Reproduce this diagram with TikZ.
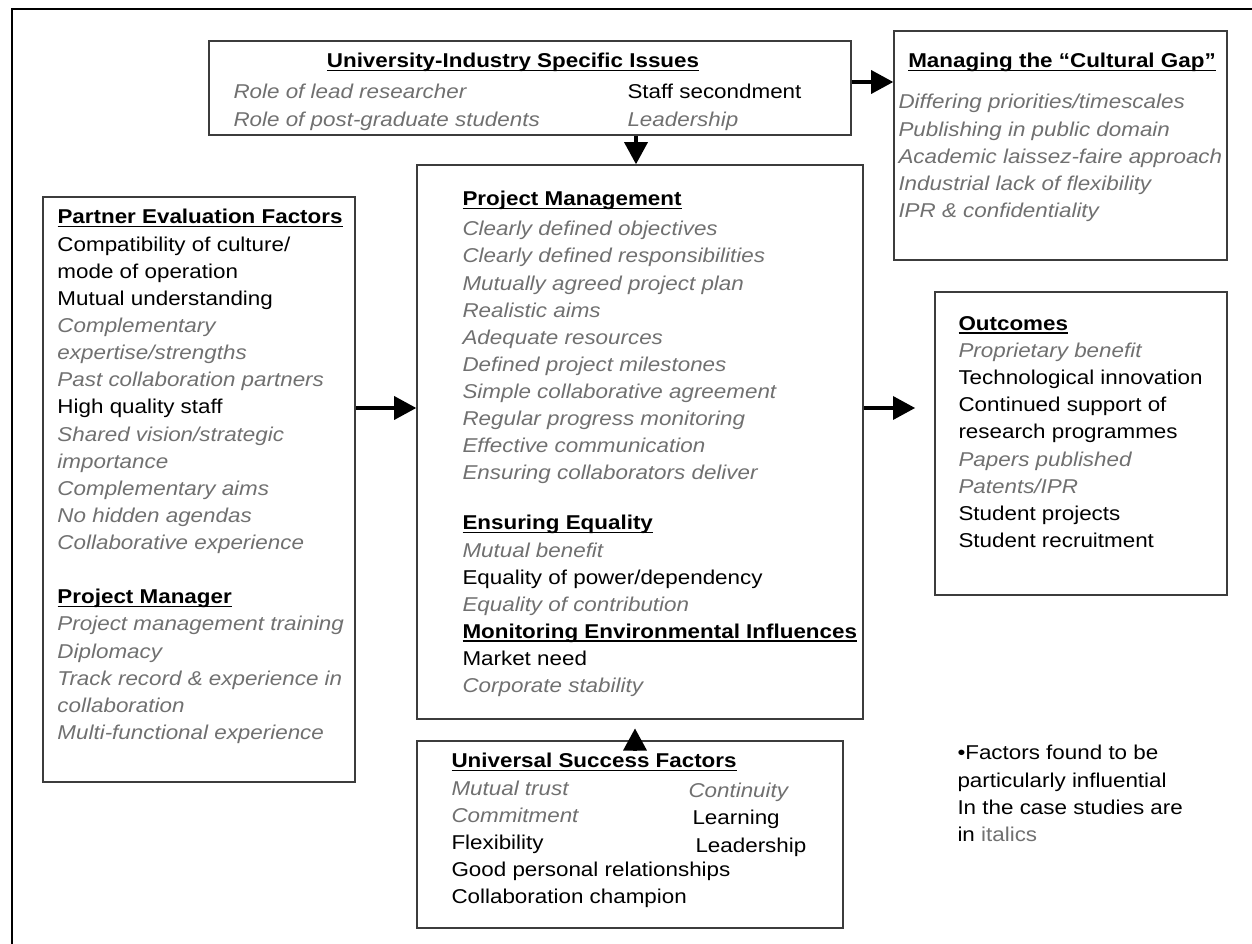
\documentclass[tikz,border=0pt]{standalone}
\usepackage{fontspec}
\setmainfont{Liberation Sans}[FakeStretch=1.12]
\usetikzlibrary{arrows.meta,fit}

\definecolor{itgray}{RGB}{112,112,112}
\definecolor{boxline}{RGB}{60,60,60}
\newsavebox{\hdbox}
\newcommand{\hd}[1]{{\bfseries\sbox{\hdbox}{#1}\rlap{\rule[-2.6pt]{\wd\hdbox}{1.3pt}}\usebox{\hdbox}}}
\newcommand{\gi}[1]{{\color{itgray}\itshape #1}}

\tikzset{every picture/.style={line width=0.75pt}}
\tikzset{
  box/.style={draw=boxline, line width=1.3pt, inner sep=0pt},
  txt/.style={anchor=north west, inner sep=0pt, align=left, font=\fontsize{15}{20.35}\selectfont,
    execute at begin node=\rule{0pt}{12pt}},
  title/.style={anchor=base, inner sep=0pt, font=\fontsize{15}{20.35}\selectfont},
  arr/.style={line width=3pt, -{Triangle[length=16.5pt,width=18pt,line width=0pt]}},
}

\begin{document}
\begin{tikzpicture}[x=0.75pt,y=0.75pt,yscale=-1,xscale=1]
\useasboundingbox (0,0) rectangle (1252,944);

%Frame
\draw [line width=1.5pt] (12,944) -- (12,9) -- (1252,9);

%Shape: Rectangle [University-Industry]
\node [box, fit={(209,41) (851,135)}] (ui) {};
%Shape: Rectangle [Cultural Gap]
\node [box, fit={(894,31) (1227,260)}] (cg) {};
%Shape: Rectangle [Partner Evaluation]
\node [box, fit={(43,197) (355,782)}] (pe) {};
%Shape: Rectangle [Project Management]
\node [box, fit={(417,165) (863,719)}] (pm) {};
%Shape: Rectangle [Outcomes]
\node [box, fit={(935,292) (1227,595)}] (out) {};
%Shape: Rectangle [Universal Success]
\node [box, fit={(417,741) (843,928)}] (usf) {};

%Arrows
\coordinate (outin) at (915,408);
\draw [arr] ([xshift=-3pt]pm.north |- ui.south) -- ([xshift=-3pt]pm.north);
\draw [arr] (ui.east |- 0,82) -- (cg.west |- 0,82);
\draw [arr] (pe.east |- 0,408) -- (pm.west |- 0,408);
\draw [arr] (pm.east |- outin) -- (outin);
\draw [arr] ([xshift=-3.75pt]pm.south |- usf.north) -- ([xshift=-3.75pt,yshift=6.5pt]pm.south);

% Text Node
\node [title] (ui-hd) at (513,68) {\hd{University-Industry Specific Issues}};
% Text Node
\node [txt] (ui-l) at (233,84) {\gi{Role of lead researcher}\\ \gi{Role of post-graduate students}};
% Text Node
\node [txt] (ui-r) at (627,84) {Staff secondment\\ \gi{Leadership}};

% Text Node
\node [title] (cg-hd) at (1062,68) {\hd{Managing the ``Cultural Gap''}};
% Text Node
\node [txt] (cg-l) at (898,94) {\gi{Differing priorities/timescales}\\ \gi{Publishing in public domain}\\ \gi{Academic laissez-faire approach}\\ \gi{Industrial lack of flexibility}\\ \gi{IPR \& confidentiality}};

% Text Node
\node [txt] (pe-l) at (57,209) {\hd{Partner Evaluation Factors}\\ Compatibility of culture/\\ mode of operation\\ Mutual understanding\\ \gi{Complementary}\\ \gi{expertise/strengths}\\ \gi{Past collaboration partners}\\ High quality staff\\ \gi{Shared vision/strategic}\\ \gi{importance}\\ \gi{Complementary aims}\\ \gi{No hidden agendas}\\ \gi{Collaborative experience}\\ \mbox{}\\ \hd{Project Manager}\\ \gi{Project management training}\\ \gi{Diplomacy}\\ \gi{Track record \& experience in}\\ \gi{collaboration}\\ \gi{Multi-functional experience}};

% Text Node
\node [txt] (pm-a) at (462,191) {\hd{Project Management}\\[2pt] \gi{Clearly defined objectives}\\ \gi{Clearly defined responsibilities}\\ \gi{Mutually agreed project plan}\\ \gi{Realistic aims}\\ \gi{Adequate resources}\\ \gi{Defined project milestones}\\ \gi{Simple collaborative agreement}\\ \gi{Regular progress monitoring}\\ \gi{Effective communication}\\ \gi{Ensuring collaborators deliver}};
% Text Node
\node [txt] (pm-b) at (462,515) {\hd{Ensuring Equality}\\ \gi{Mutual benefit}\\ Equality of power/dependency\\ \gi{Equality of contribution}\\ \hd{Monitoring Environmental Influences}\\ Market need\\ \gi{Corporate stability}};

% Text Node
\node [txt] (out-l) at (958,316) {\hd{Outcomes}\\ \gi{Proprietary benefit}\\ Technological innovation\\ Continued support of\\ research programmes\\ \gi{Papers published}\\ \gi{Patents/IPR}\\ Student projects\\ Student recruitment};

% Text Node
\node [txt] (usf-l) at (451,753) {\hd{Universal Success Factors}\\ \gi{Mutual trust}\\ \gi{Commitment}\\ Flexibility\\ Good personal relationships\\ Collaboration champion};
% Text Node
\node [txt] (usf-r1) at (688,781) {\gi{Continuity}};
% Text Node
\node [txt] (usf-r2) at (692,808) {Learning};
% Text Node
\node [txt] (usf-r3) at (695,836) {Leadership};

% Text Node
\node [txt] (note) at (957,745) {\textbullet Factors found to be\\ particularly influential\\ In the case studies are\\ in {\color{itgray}italics}};

\end{tikzpicture}
\end{document}
